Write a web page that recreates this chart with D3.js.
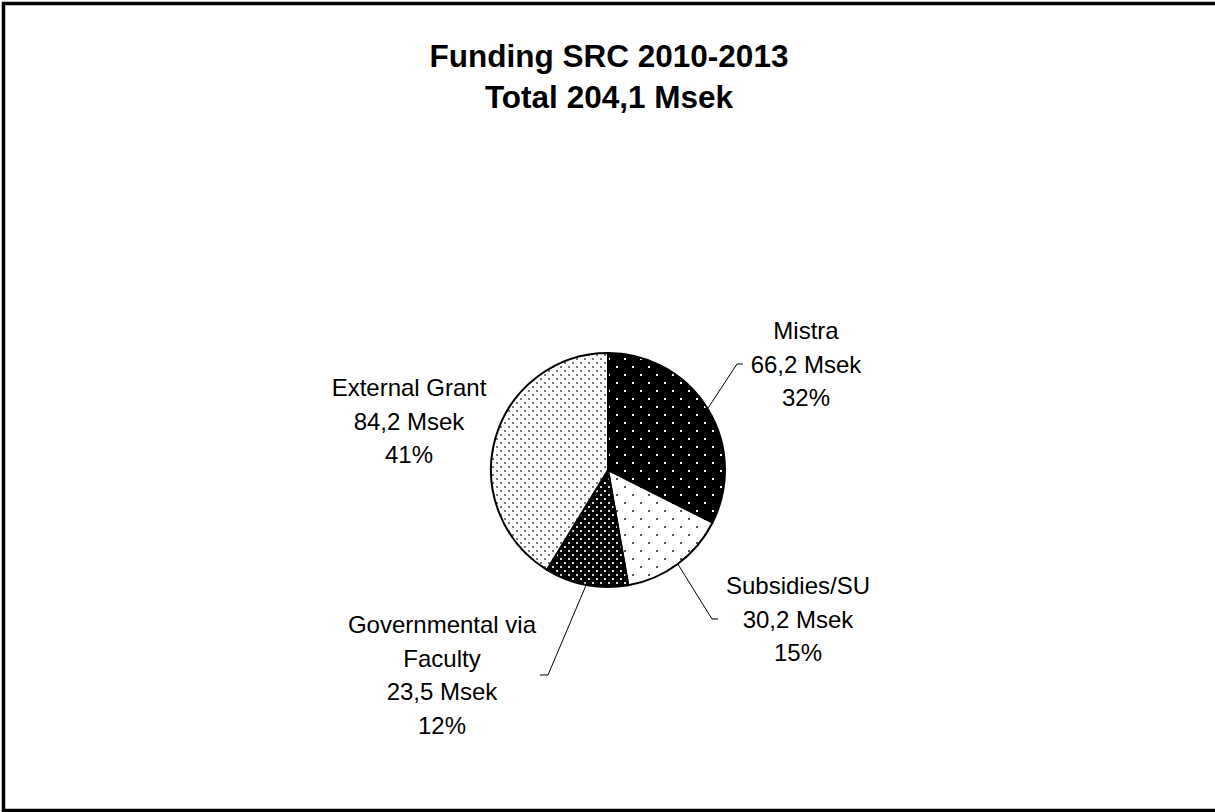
<!DOCTYPE html>
<html>
<head>
<meta charset="utf-8">
<script src="https://cdn.jsdelivr.net/npm/d3@7/dist/d3.min.js"></script>
<style>
  html, body { margin: 0; padding: 0; background: #fff; }
  svg { display: block; }
  text { font-family: Arial, "Liberation Sans", sans-serif; fill: #000; }
</style>
</head>
<body>
<svg id="chart" width="1215" height="812"></svg>
<script>
// ---- data ----
const categories = ["Mistra", "Subsidies/SU", "Governmental via Faculty", "External Grant"];
const values = [66.2, 30.2, 23.5, 84.2];
const labelNames = [["Mistra"], ["Subsidies/SU"], ["Governmental via", "Faculty"], ["External Grant"]];
const titleLines = ["Funding SRC 2010-2013", "Total 204,1 Msek"];

// ---- layout ----
const W = 1215, H = 812;
const cx = 608, cy = 470, R = 117;
const fmt = v => d3.format(".1f")(v).replace(".", ",");
// label layout: center x, baseline of first line, leader end point (null = no leader)
const labelLayout = [
  { x: 806, y: 339, leader: [737, 364], tick: 6 },
  { x: 798, y: 594, leader: [712, 619], tick: 6 },
  { x: 442, y: 633, leader: [548, 675], tick: -8 },
  { x: 409, y: 396, leader: null }
];
const lineH = 33.5;

const svg = d3.select("#chart");
const defs = svg.append("defs");

function dotPattern(id, size, bg, dot, dotSize, pts) {
  const p = defs.append("pattern").attr("id", id).attr("patternUnits", "userSpaceOnUse")
    .attr("width", size).attr("height", size);
  p.append("rect").attr("width", size).attr("height", size).attr("fill", bg);
  pts.forEach(([x, y]) => p.append("rect").attr("x", x).attr("y", y)
    .attr("width", dotSize).attr("height", dotSize).attr("fill", dot));
}
dotPattern("pMistra", 16, "#000", "#fff", 2, [[0, 0], [8, 8]]);
dotPattern("pSubs", 16, "#fff", "#555", 2, [[0, 0], [8, 8]]);
dotPattern("pGov", 8, "#000", "#ddd", 2, [[0, 0], [4, 4]]);
dotPattern("pExt", 8, "#fff", "#777", 2, [[0, 0], [4, 4]]);
const fills = ["url(#pMistra)", "url(#pSubs)", "url(#pGov)", "url(#pExt)"];

// border
svg.append("rect").attr("x", 3.5).attr("y", 3.5).attr("width", 1215).attr("height", 807)
  .attr("fill", "none").attr("stroke", "#000").attr("stroke-width", 3.5);

// title
svg.append("text").attr("x", 609).attr("y", 67).attr("text-anchor", "middle")
  .style("font-size", "31.5px").style("font-weight", "bold").text(titleLines[0]);
svg.append("text").attr("x", 609).attr("y", 108).attr("text-anchor", "middle")
  .style("font-size", "31.5px").style("font-weight", "bold").text(titleLines[1]);

// pie
const total = d3.sum(values);
const pie = d3.pie().sort(null).value(d => d)(values);
const arc = d3.arc().innerRadius(0).outerRadius(R);
const g = svg.append("g").attr("transform", `translate(${cx},${cy})`);
g.selectAll("path.slice").data(pie).enter().append("path")
  .attr("class", "slice")
  .attr("d", arc)
  .attr("fill", (d, i) => fills[i])
  .attr("stroke", "#000").attr("stroke-width", 2).attr("stroke-linejoin", "round");

// labels + leaders
pie.forEach((d, i) => {
  const L = labelLayout[i];
  const lines = [...labelNames[i], fmt(values[i]) + " Msek", Math.round(values[i] / total * 100) + "%"];
  const t = svg.append("text").attr("text-anchor", "middle").style("font-size", "24px");
  lines.forEach((s, k) => t.append("tspan").attr("x", L.x).attr("y", L.y + k * lineH).text(s));
  if (L.leader) {
    const mid = (d.startAngle + d.endAngle) / 2;
    const sx = cx + R * Math.sin(mid), sy = cy - R * Math.cos(mid);
    svg.append("path")
      .attr("d", `M${sx},${sy}L${L.leader[0]},${L.leader[1]}h${L.tick}`)
      .attr("fill", "none").attr("stroke", "#000").attr("stroke-width", 1);
  }
});
</script>
</body>
</html>
